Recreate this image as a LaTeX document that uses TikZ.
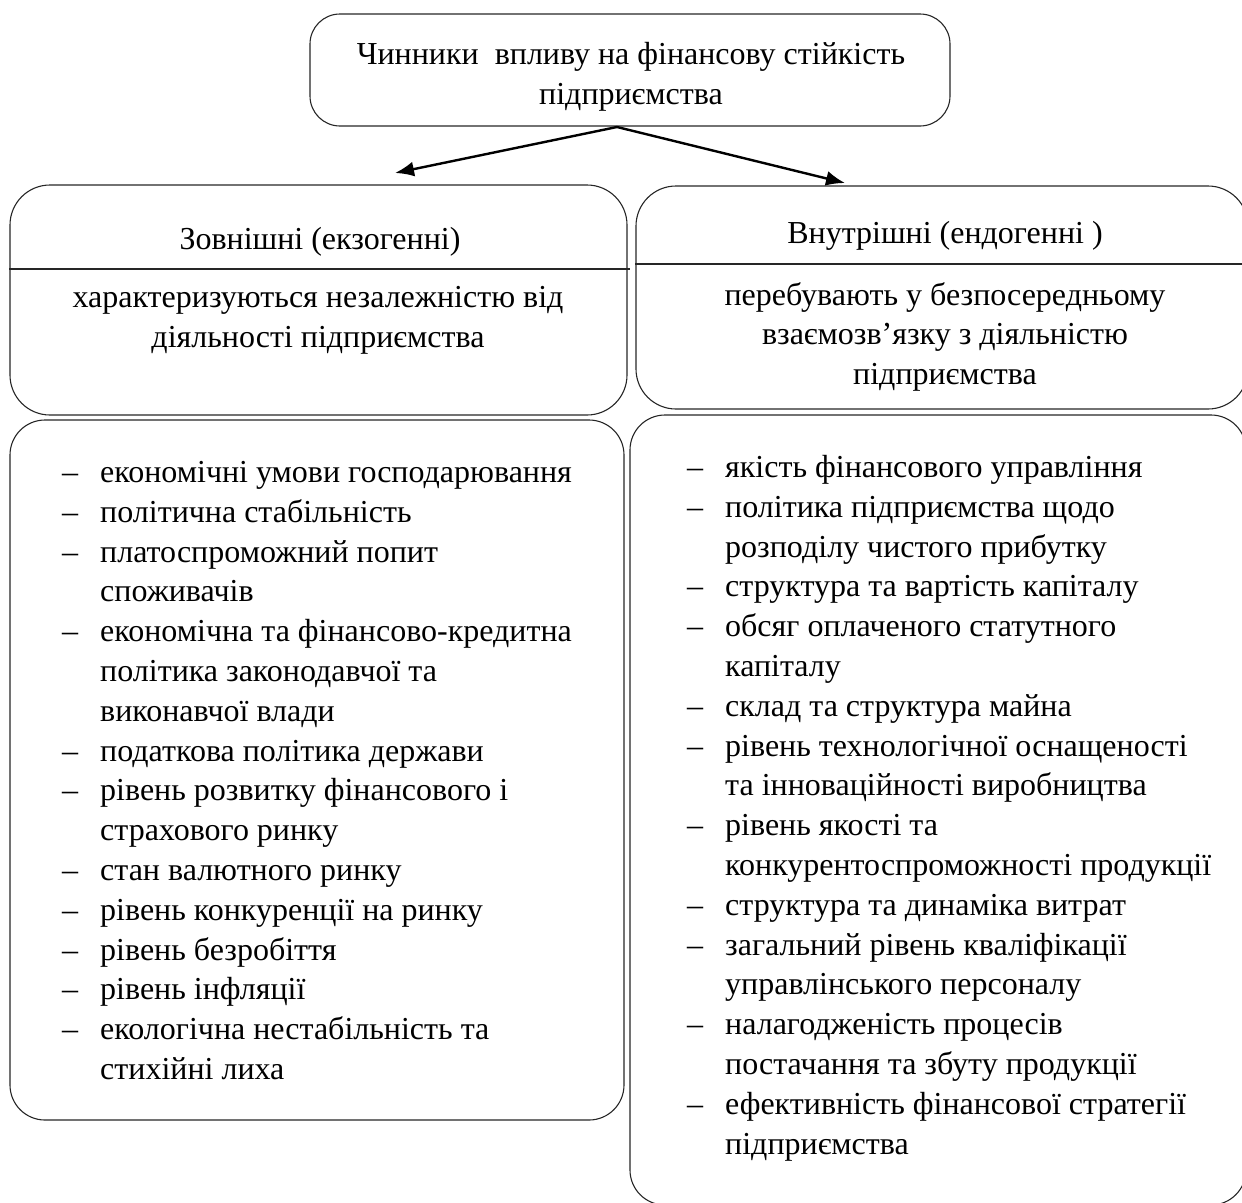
\documentclass[tikz,border=0pt]{standalone}
\usepackage{fontspec}
\setmainfont{Liberation Serif}
\usetikzlibrary{arrows.meta,calc}
\begin{document}
\begin{tikzpicture}[x=1pt,y=-1pt,
  box/.style={draw=black!85, line width=1.1pt, rounded corners=30pt, inner sep=0pt},
  txt/.style={font=\fontsize{32}{39.8}\selectfont, inner sep=0pt, align=center},
  lst/.style={font=\fontsize{32}{39.8}\selectfont, inner sep=0pt, align=left, anchor=north west},
  arr/.style={line width=2.4pt, -{Latex[length=19pt,width=15pt]}}]
\useasboundingbox (0,0) rectangle (1242,1202);
\clip (0,0) rectangle (1242,1202);
% top box
\node[box, minimum width=640pt, minimum height=112pt] (top) at (630,70) {};
\node[txt] (toptxt) at (631,77) {Чинники\ \ впливу на фінансову стійкість\\ підприємства};
% header boxes
\node[box, rounded corners=40pt, minimum width=617pt, minimum height=230pt] (lh) at (318.5,300) {};
\node[box, rounded corners=40pt, minimum width=612pt, minimum height=223pt] (rh) at (942,297.5) {};
\draw[line width=1.1pt, draw=black!85] (lh.west |- 0,269) -- ($(lh.east |- 0,269)+(2,0)$);
\draw[line width=1.1pt, draw=black!85] (rh.west |- 0,264) -- (rh.east |- 0,264);
\node[txt] (lht) at (320,242) {Зовнішні (екзогенні)};
\node[txt] (rht) at (945,236) {Внутрішні (ендогенні )};
\node[txt, anchor=north] (lhs) at (318,286) {характеризуються незалежністю від\\ діяльності підприємства};
\node[txt, anchor=north] (rhs) at (945,282) {перебувають у безпосередньому\\ взаємозв’язку з діяльністю\\ підприємства};
% list boxes
\node[box, rounded corners=35pt, minimum width=614pt, minimum height=700pt] (ll) at (317,770) {};
\node[box, rounded corners=35pt, minimum width=616pt, minimum height=790pt] (rl) at (938,810) {};
\def\dd{\makebox[38pt][l]{–}}
\def\ii{\hspace*{38pt}}
\node[lst] (llt) at (62,461) {%
\dd економічні умови господарювання\\
\dd політична стабільність\\
\dd платоспроможний попит\\
\ii споживачів\\
\dd економічна та фінансово-кредитна\\
\ii політика законодавчої та\\
\ii виконавчої влади\\
\dd податкова політика держави\\
\dd рівень розвитку фінансового і\\
\ii страхового ринку\\
\dd стан валютного ринку\\
\dd рівень конкуренції на ринку\\
\dd рівень безробіття\\
\dd рівень інфляції\\
\dd екологічна нестабільність та\\
\ii стихійні лиха};
\node[lst] (rlt) at (687,455) {%
\dd якість фінансового управління\\
\dd політика підприємства щодо\\
\ii розподілу чистого прибутку\\
\dd структура та вартість капіталу\\
\dd обсяг оплаченого статутного\\
\ii капіталу\\
\dd склад та структура майна\\
\dd рівень технологічної оснащеності\\
\ii та інноваційності виробництва\\
\dd рівень якості та\\
\ii конкурентоспроможності продукції\\
\dd структура та динаміка витрат\\
\dd загальний рівень кваліфікації\\
\ii управлінського персоналу\\
\dd налагодженість процесів\\
\ii постачання та збуту продукції\\
\dd ефективність фінансової стратегії\\
\ii підприємства};
% arrows
\coordinate (fork) at (617,127);
\coordinate (la) at (395,173);
\coordinate (ra) at (845,183);
\draw[arr] (fork) -- (la);
\draw[arr] (fork) -- (ra);
\end{tikzpicture}
\end{document}
